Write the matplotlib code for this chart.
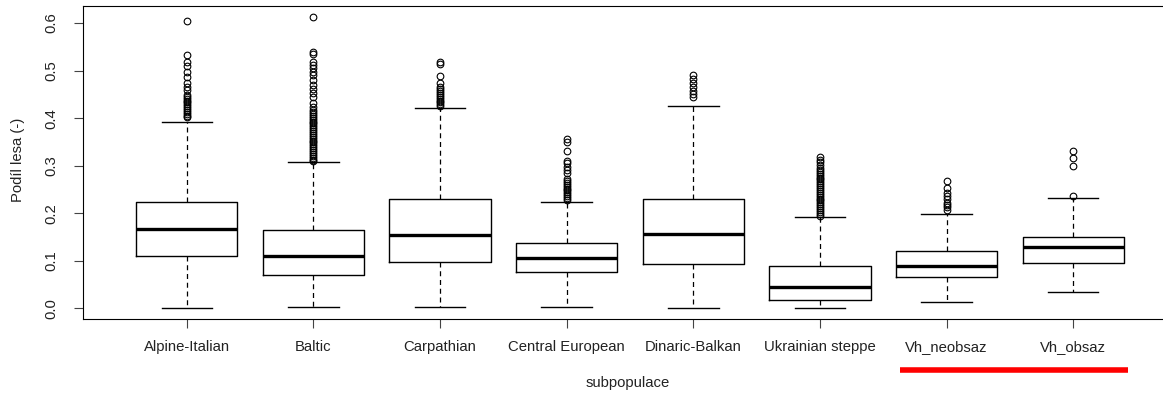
import matplotlib
matplotlib.use("Agg")
from matplotlib import pyplot as plt
from matplotlib.lines import Line2D
import matplotlib.transforms as mtransforms

plt.rcParams['font.family'] = ['Liberation Sans', 'DejaVu Sans']

# data
groups = ['Alpine-Italian', 'Baltic', 'Carpathian', 'Central European',
          'Dinaric-Balkan', 'Ukrainian steppe', 'Vh_neobsaz', 'Vh_obsaz']
whislo = [0.001, 0.003, 0.003, 0.003, 0.001, 0.001, 0.013, 0.035]
q1 = [0.110, 0.070, 0.098, 0.076, 0.093, 0.017, 0.066, 0.095]
med = [0.166, 0.111, 0.155, 0.105, 0.156, 0.044, 0.089, 0.128]
q3 = [0.224, 0.164, 0.229, 0.137, 0.229, 0.088, 0.121, 0.149]
whishi = [0.393, 0.307, 0.422, 0.224, 0.426, 0.192, 0.199, 0.233]

alpine_out = [0.605, 0.533, 0.519, 0.509, 0.498, 0.486, 0.474, 0.465, 0.460, 0.449,
              0.445, 0.441, 0.437, 0.433, 0.429, 0.425, 0.421, 0.417, 0.413, 0.409,
              0.405, 0.402]
baltic_out = [0.612, 0.540, 0.536, 0.519, 0.512, 0.505, 0.498, 0.490, 0.481, 0.470,
              0.461, 0.453, 0.444, 0.432, 0.424, 0.417, 0.413, 0.409, 0.405, 0.401,
              0.397, 0.393, 0.389, 0.385, 0.381, 0.377, 0.373, 0.369, 0.365, 0.361,
              0.357, 0.353, 0.349, 0.345, 0.341, 0.337, 0.333, 0.329, 0.325, 0.321,
              0.317, 0.313, 0.309]
carp_out = [0.519, 0.515, 0.488, 0.475, 0.465, 0.461, 0.457, 0.453, 0.449, 0.445,
            0.441, 0.437, 0.433, 0.429, 0.425]
central_out = [0.356, 0.350, 0.331, 0.310, 0.305, 0.298, 0.291, 0.284, 0.272, 0.268,
               0.264, 0.260, 0.256, 0.252, 0.248, 0.244, 0.240, 0.236, 0.232, 0.228]
dinaric_out = [0.491, 0.483, 0.474, 0.466, 0.458, 0.450, 0.445]
ukr_out = [0.318, 0.313, 0.308, 0.302, 0.296, 0.291, 0.287, 0.283, 0.279, 0.275,
           0.271, 0.267, 0.263, 0.259, 0.255, 0.251, 0.247, 0.243, 0.239, 0.235,
           0.231, 0.227, 0.223, 0.219, 0.215, 0.211, 0.207, 0.203, 0.199, 0.195]
vhneo_out = [0.268, 0.253, 0.243, 0.236, 0.229, 0.222, 0.217, 0.213, 0.207]
vhobs_out = [0.331, 0.316, 0.300, 0.237]
outliers = [alpine_out, baltic_out, carp_out, central_out,
            dinaric_out, ukr_out, vhneo_out, vhobs_out]

stats = []
for i in range(len(groups)):
    stats.append(dict(label=groups[i], whislo=whislo[i], q1=q1[i], med=med[i],
                      q3=q3[i], whishi=whishi[i], fliers=outliers[i]))

fig = plt.figure(figsize=(11.63, 3.96), dpi=100)
ax = fig.add_axes([83 / 1163, 1 - 319 / 396, 1094 / 1163, 313 / 396])

ax.bxp(stats, positions=range(1, 9), widths=0.8, showcaps=True,
       boxprops=dict(color='black', linewidth=1),
       medianprops=dict(color='black', linewidth=2.4, solid_capstyle='butt'),
       whiskerprops=dict(color='black', linewidth=0.9, linestyle=(0, (4, 3))),
       capprops=dict(color='black', linewidth=1),
       capwidths=0.4,
       flierprops=dict(marker='o', markerfacecolor='none', markeredgecolor='black',
                       markersize=4.8, markeredgewidth=0.8))

ax.set_xlim(0.18, 8.82)
ax.set_ylim(-0.0225, 0.636)
ax.set_yticks([0.0, 0.1, 0.2, 0.3, 0.4, 0.5, 0.6])
ax.set_yticklabels(['0.0', '0.1', '0.2', '0.3', '0.4', '0.5', '0.6'],
                   rotation=90, va='center')
ax.set_xticks(range(1, 9))
ax.set_xticklabels(groups)
ax.tick_params(axis='both', direction='out', length=6.5, width=0.8,
               labelsize=10.7, color='#444444', labelcolor='#222222')
ax.tick_params(axis='y', pad=11)
ax.tick_params(axis='x', pad=8.5)
for s in ax.spines.values():
    s.set_linewidth(0.8)

fig.text(18 / 1163, 1 - 160 / 396, 'Podíl lesa (-)', rotation=90,
         ha='center', va='center', fontsize=10.7, color='#222222')
fig.text(628 / 1163, 1 - 383 / 396, 'subpopulace', ha='center', va='center',
         fontsize=10.7, color='#222222')

# red underline below the last two groups
trans = mtransforms.blended_transform_factory(ax.transData, fig.transFigure)
fig.add_artist(Line2D([6.63, 8.43], [1 - 369.5 / 396] * 2, transform=trans,
                      color='#ff0000', linewidth=4, solid_capstyle='butt'))

fig.savefig('out.png', dpi=100)
